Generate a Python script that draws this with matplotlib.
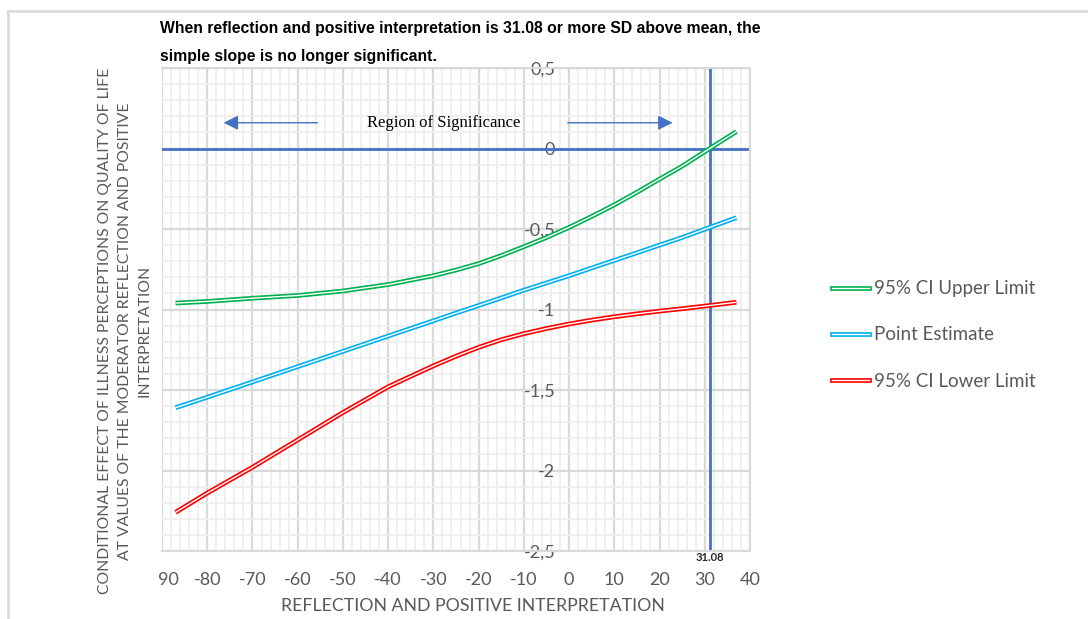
"""Region of significance plot for the conditional effect (Johnson-Neyman style)"""
import matplotlib.pyplot as plt
import matplotlib.transforms as mtransforms
from matplotlib.lines import Line2D
from matplotlib.ticker import FuncFormatter, MultipleLocator

# values
moderator = [-87, -80, -70, -60, -50, -40, -30, -25, -20, -15, -10, -5, 0, 5,
             10, 15, 20, 25, 31.08, 37]
upper_ci = [-0.96, -0.95, -0.93, -0.913, -0.885, -0.845, -0.79, -0.755, -0.715,
            -0.665, -0.61, -0.553, -0.49, -0.422, -0.35, -0.272, -0.19, -0.11,
            0.0, 0.105]
point_est = [-1.61, -1.545, -1.45, -1.355, -1.26, -1.165, -1.07, -1.022, -0.975,
             -0.928, -0.88, -0.835, -0.79, -0.742, -0.695, -0.648, -0.60, -0.553,
             -0.49, -0.43]
lower_ci = [-2.26, -2.14, -1.98, -1.81, -1.64, -1.48, -1.35, -1.29, -1.235,
            -1.188, -1.15, -1.118, -1.09, -1.066, -1.045, -1.027, -1.01, -0.995,
            -0.975, -0.955]
jn_point = 31.08
x_ticks = [-90, -80, -70, -60, -50, -40, -30, -20, -10, 0, 10, 20, 30, 40]
x_ticklabels = ["90", "-80", "-70", "-60", "-50", "-40", "-30", "-20", "-10",
                "0", "10", "20", "30", "40"]
y_ticks = [0.5, 0, -0.5, -1, -1.5, -2, -2.5]

GREEN = "#00B050"
BLUE = "#00B0F0"
RED = "#FF0000"
LINE_BLUE = "#4472C4"
GREY_TXT = "#595959"
LABEL_FONT = ["Lato", "DejaVu Sans"]

fig = plt.figure(figsize=(10.88, 6.19), dpi=100)
ax = fig.add_axes([162 / 1088, 1 - 551 / 619, (750 - 162) / 1088, (551 - 68) / 619])

ax.set_xlim(-90, 40)
ax.set_ylim(-2.5, 0.5)

# grid: major every 10 / 0.5, minor every 2 / 0.1
ax.xaxis.set_major_locator(MultipleLocator(10))
ax.xaxis.set_minor_locator(MultipleLocator(2))
ax.yaxis.set_major_locator(MultipleLocator(0.5))
ax.yaxis.set_minor_locator(MultipleLocator(0.1))
ax.grid(which="major", color="#d9d9d9", lw=1.6, zorder=0)
ax.grid(which="minor", color="#eeeeee", lw=1.2, zorder=0)
ax.set_axisbelow(True)
for sp in ax.spines.values():
    sp.set_color("#d9d9d9")
    sp.set_linewidth(1.5)

# y tick labels sit next to x = 0, like excel's axis crossing
ax.spines["left"].set_position(("data", 0))
ax.spines["left"].set_visible(False)
ax.set_yticks(y_ticks)
ax.yaxis.set_major_formatter(FuncFormatter(lambda v, p: ("%g" % v).replace(".", ",")))
ax.tick_params(axis="y", which="both", length=0, pad=10, labelsize=13, labelcolor=GREY_TXT)
ax.set_xticks(x_ticks)
ax.set_xticklabels(x_ticklabels)
ax.tick_params(axis="x", which="both", length=0, pad=15, labelsize=13, labelcolor=GREY_TXT)
for lab in ax.get_xticklabels() + ax.get_yticklabels():
    lab.set_family(LABEL_FONT)
# the first label is the clipped "-90": nudge it right like in the original
first = ax.get_xticklabels()[0]
first.set_transform(first.get_transform() +
                    mtransforms.ScaledTranslation(6 / 100, 0, fig.dpi_scale_trans))

# reference lines
ax.axhline(0, color=LINE_BLUE, lw=2, zorder=2)
ax.axvline(jn_point, color=LINE_BLUE, lw=2, zorder=2)

# double ("compound") lines
handles = []
for ys, col, lab in [(upper_ci, GREEN, "95% CI Upper Limit"),
                     (point_est, BLUE, "Point Estimate"),
                     (lower_ci, RED, "95% CI Lower Limit")]:
    ax.plot(moderator, ys, color=col, lw=3.4, solid_capstyle="butt", zorder=3)
    ax.plot(moderator, ys, color="white", lw=1.0, solid_capstyle="butt", zorder=4)
    handles.append(((Line2D([], [], color=col, lw=3.4), Line2D([], [], color="white", lw=1.0)), lab))

# region of significance annotation
ax.text(-27.8, 0.16, "Region of Significance", ha="center", va="center",
        fontsize=12, family=["Liberation Serif", "DejaVu Serif"], color="black")
arrow = dict(arrowstyle="-|>", color=LINE_BLUE, lw=1.0, mutation_scale=22)
ax.annotate("", xy=(-77, 0.16), xytext=(-55, 0.16), arrowprops=arrow)
ax.annotate("", xy=(23.5, 0.16), xytext=(-0.9, 0.16), arrowprops=arrow)

ax.text(jn_point, -2.505, "31.08", ha="center", va="top", fontsize=8,
        fontweight="bold", color="#262626", family=LABEL_FONT)

# legend
leg = fig.legend([h for h, _ in handles], [l for _, l in handles],
                 loc="center left", bbox_to_anchor=(815 / 1088, 1 - 335 / 619),
                 frameon=False, handlelength=2.0, handletextpad=0.25,
                 labelspacing=1.55, prop={"family": LABEL_FONT, "size": 13.5})
for t in leg.get_texts():
    t.set_color(GREY_TXT)

# titles / axis labels
title_font = ["Liberation Sans", "DejaVu Sans"]
fig.text(160 / 1088, 1 - 28 / 619,
         "When reflection and positive interpretation is 31.08 or more SD above mean, the",
         ha="left", va="center", fontsize=11.3, fontweight="bold", family=title_font)
fig.text(160 / 1088, 1 - 57 / 619, "simple slope is no longer significant.",
         ha="left", va="center", fontsize=11.3, fontweight="bold", family=title_font)
fig.text(473 / 1088, 1 - 606 / 619, "REFLECTION AND POSITIVE INTERPRETATION",
         ha="center", va="center", fontsize=12.8, color=GREY_TXT, family=LABEL_FONT)
fig.text(125 / 1088, 1 - 331 / 619,
         "CONDITIONAL EFFECT OF ILLNESS PERCEPTIONS ON QUALITY OF LIFE\n"
         "AT VALUES OF THE MODERATOR REFLECTION AND POSITIVE\nINTERPRETATION",
         ha="center", va="center", rotation=90, fontsize=11.3, color=GREY_TXT,
         family=LABEL_FONT, multialignment="center", linespacing=1.5)

# screenshot frame
fig.add_artist(Line2D([8 / 1088, 8 / 1088], [0, 1 - 11 / 619], color="#dcdcdc", lw=2))
fig.add_artist(Line2D([8 / 1088, 1], [1 - 11 / 619, 1 - 11 / 619], color="#dcdcdc", lw=2))

fig.savefig("out.png", dpi=100)
